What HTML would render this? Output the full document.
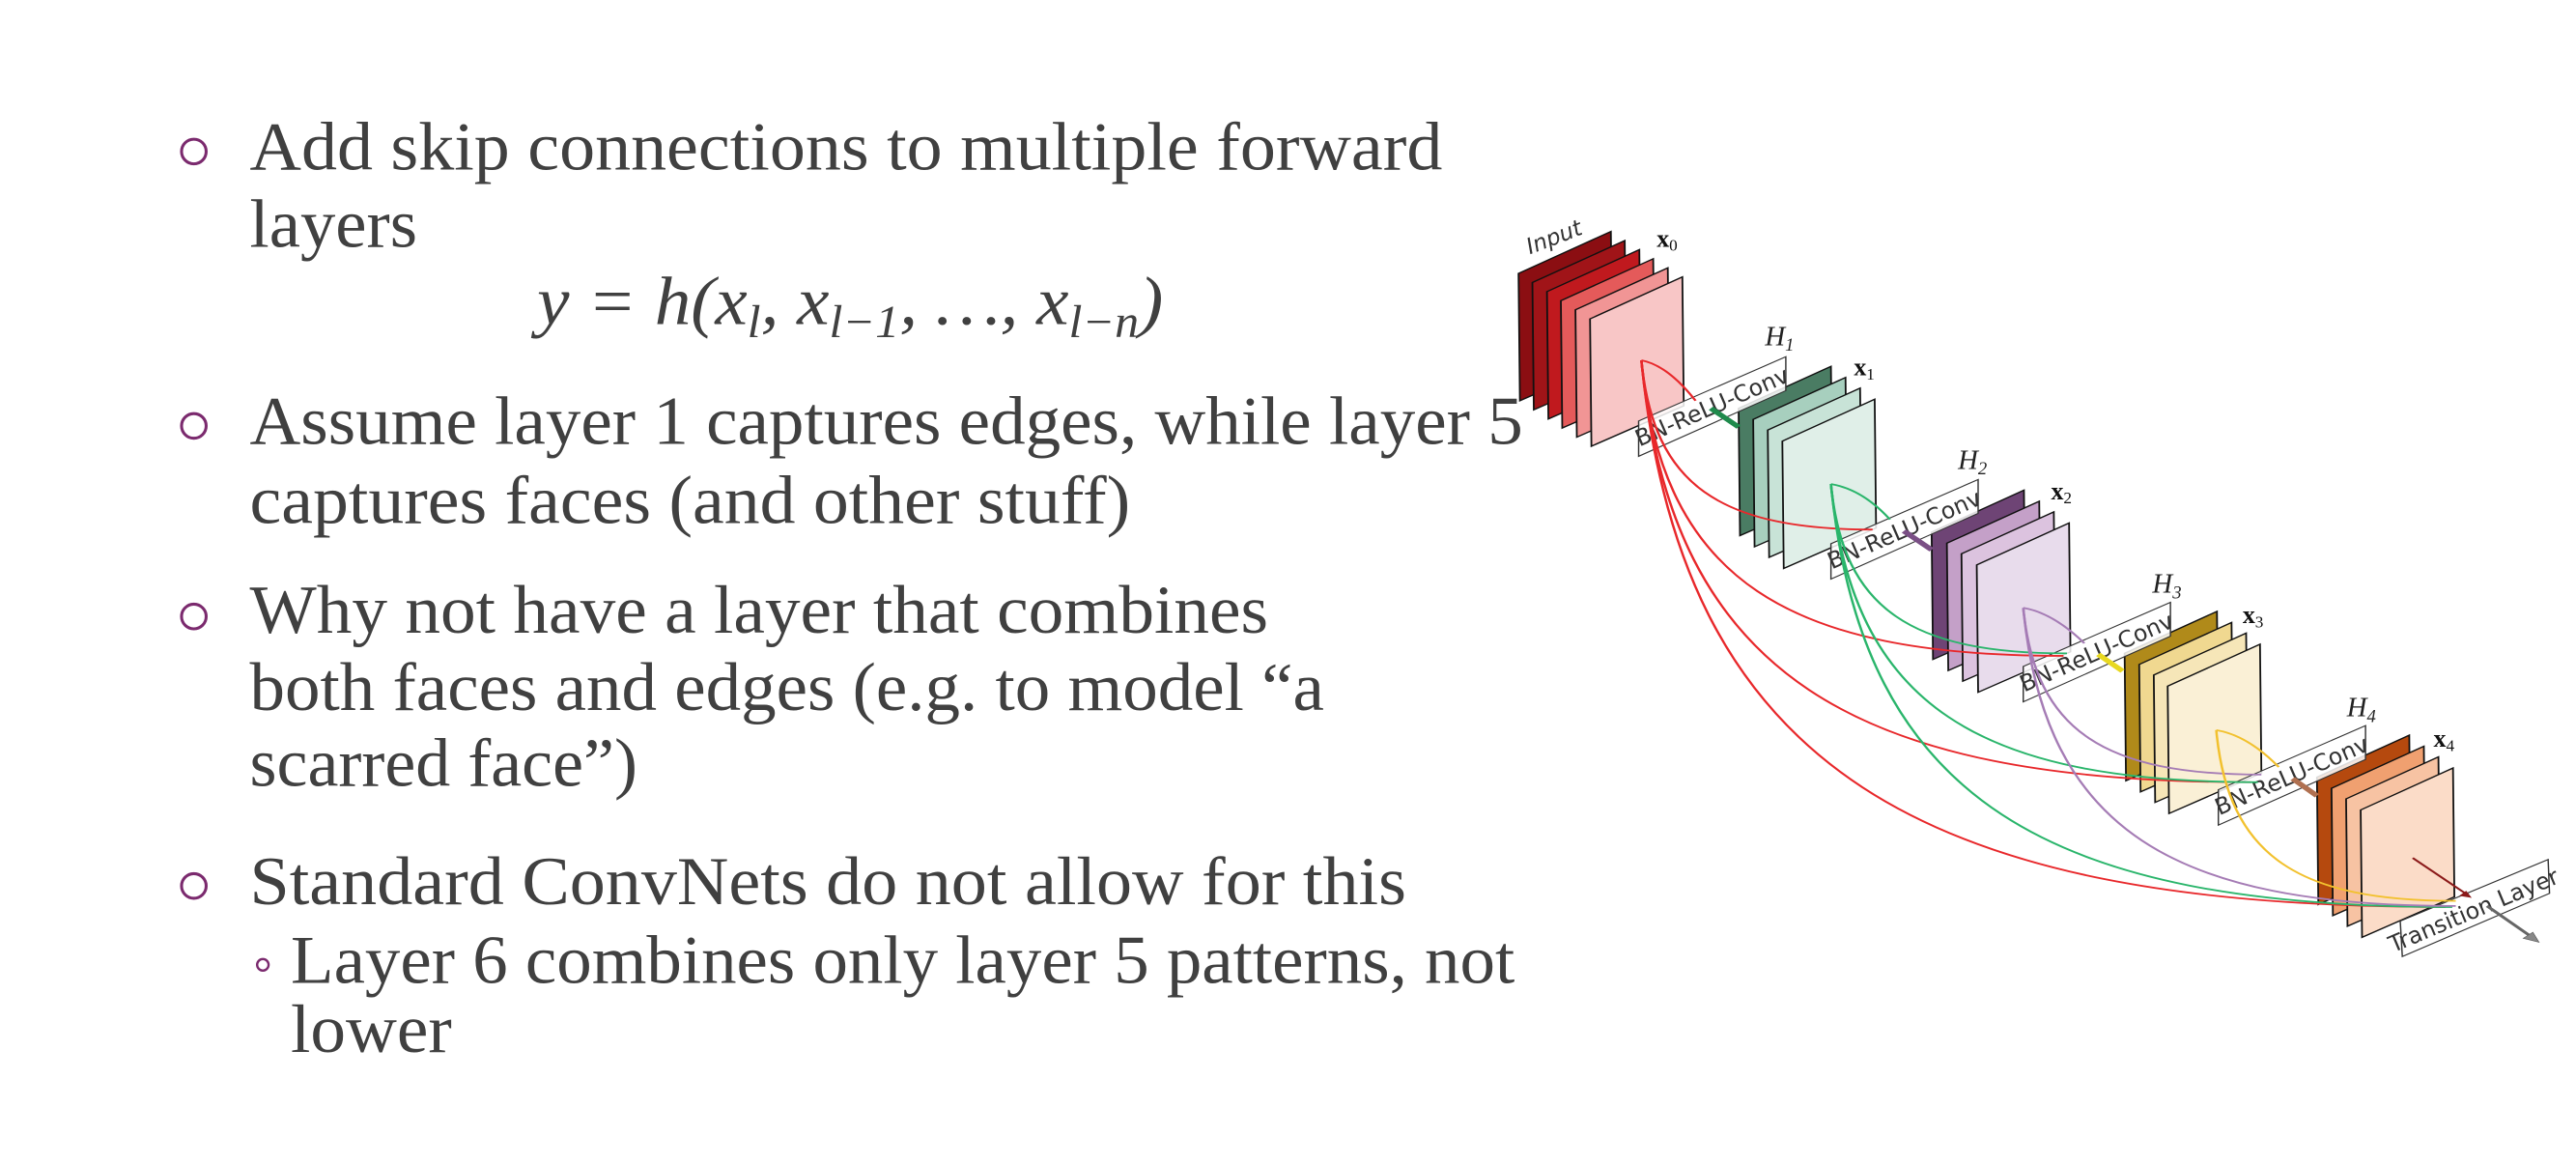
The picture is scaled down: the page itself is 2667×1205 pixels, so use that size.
<!DOCTYPE html>
<html><head><meta charset="utf-8"><style>
html,body{margin:0;padding:0;background:#fff;overflow:hidden;}
svg{display:block;}
</style></head><body>
<svg width="2667" height="1205" viewBox="0 0 1568 708" xmlns="http://www.w3.org/2000/svg">
<rect width="1568" height="708" fill="#fff"/>
<g font-family="'Liberation Serif',serif" font-size="42" fill="#404040">
<text x="152" y="103" textLength="726" lengthAdjust="spacingAndGlyphs">Add skip connections to multiple forward</text>
<text x="152" y="150" textLength="102" lengthAdjust="spacingAndGlyphs">layers</text>
<text x="327" y="197" font-style="italic" textLength="381" lengthAdjust="spacingAndGlyphs">y = h(x<tspan font-size="28" dy="8">l</tspan><tspan dy="-8">, x</tspan><tspan font-size="28" dy="8">l−1</tspan><tspan dy="-8">, …, x</tspan><tspan font-size="28" dy="8">l−n</tspan><tspan dy="-8">)</tspan></text>
<text x="152" y="270" textLength="775" lengthAdjust="spacingAndGlyphs">Assume layer 1 captures edges, while layer 5</text>
<text x="152" y="318" textLength="536" lengthAdjust="spacingAndGlyphs">captures faces (and other stuff)</text>
<text x="152" y="385" textLength="620" lengthAdjust="spacingAndGlyphs">Why not have a layer that combines</text>
<text x="152" y="432" textLength="654" lengthAdjust="spacingAndGlyphs">both faces and edges (e.g. to model “a</text>
<text x="152" y="478" textLength="236" lengthAdjust="spacingAndGlyphs">scarred face”)</text>
<text x="152" y="550" textLength="704" lengthAdjust="spacingAndGlyphs">Standard ConvNets do not allow for this</text>
<text x="177" y="598" textLength="745" lengthAdjust="spacingAndGlyphs">Layer 6 combines only layer 5 patterns, not</text>
<text x="177" y="640" textLength="98" lengthAdjust="spacingAndGlyphs">lower</text>
</g>
<g fill="none" stroke="#7b2a6e" stroke-width="1.8">
<circle cx="118" cy="92" r="7.5"/><circle cx="118" cy="259" r="7.5"/>
<circle cx="118" cy="375" r="7.5"/><circle cx="118" cy="539" r="7.5"/>
<circle cx="160" cy="587" r="3.5" stroke-width="1.4"/>
</g>

<g transform="translate(905.3,117.6) scale(0.4226,0.3075)">
<defs>
<g id="sh"><polygon points="0,0 133,-83 135,172 2,252" stroke="#111" stroke-width="2.5"/></g>
</defs>
<use href="#sh" x="45" y="158" fill="#8b0e12"/>
<use href="#sh" x="65" y="176" fill="#a01418"/>
<use href="#sh" x="86" y="194" fill="#c0191e"/>
<use href="#sh" x="106" y="212" fill="#e45a5a"/>
<use href="#sh" x="127" y="230" fill="#f19595"/>
<use href="#sh" x="148" y="248" fill="#f8c6c6"/>

<use href="#sh" x="362" y="425" fill="#4a7c63"/>
<use href="#sh" x="383" y="447" fill="#a7cfbe"/>
<use href="#sh" x="404" y="468" fill="#c8e3d7"/>
<use href="#sh" x="425" y="490" fill="#e0efe8"/>

<use href="#sh" x="640" y="670" fill="#6e4475"/>
<use href="#sh" x="662" y="692" fill="#c4a0c8"/>
<use href="#sh" x="683" y="713" fill="#dcc3df"/>
<use href="#sh" x="705" y="735" fill="#e8dcec"/>

<use href="#sh" x="918" y="910" fill="#b08a1a"/>
<use href="#sh" x="939" y="932" fill="#f0d890"/>
<use href="#sh" x="960" y="953" fill="#f6e6b8"/>
<use href="#sh" x="980" y="975" fill="#faf0d6"/>

<use href="#sh" x="1195" y="1155" fill="#b5490e"/>
<use href="#sh" x="1216" y="1177" fill="#f0a070"/>
<use href="#sh" x="1237" y="1198" fill="#f7c3a3"/>
<use href="#sh" x="1258" y="1220" fill="#fbdcc8"/>

<g fill="#fff" fill-opacity="0.85" stroke="#333" stroke-width="2">
<polygon points="218,450 430,323 430,390 218,520"/>
<polygon points="495,693 707,566 707,633 495,763"/>
<polygon points="772,936 984,809 984,876 772,1006"/>
<polygon points="1053,1180 1265,1053 1265,1120 1053,1250"/>
<polygon points="1315,1440 1528,1318 1530,1385 1318,1510"/>
</g>
<g font-family="'DejaVu Sans','Liberation Sans',sans-serif" font-size="33" fill="#333" text-anchor="middle">
<text transform="translate(328,436) scale(1,1.374) rotate(-23.5)">BN-ReLU-Conv</text>
<text transform="translate(605,679) scale(1,1.374) rotate(-23.5)">BN-ReLU-Conv</text>
<text transform="translate(882,922) scale(1,1.374) rotate(-23.5)">BN-ReLU-Conv</text>
<text transform="translate(1163,1166) scale(1,1.374) rotate(-23.5)">BN-ReLU-Conv</text>
<text transform="translate(1425,1433) scale(1,1.374) rotate(-22.8)">Transition Layer</text>
<text transform="translate(100,100) scale(1,1.374) rotate(-21)" font-style="italic" font-size="32">Input</text>
</g>
<g font-family="'Liberation Serif',serif" font-size="40" fill="#222" font-style="italic">
<text transform="translate(400,300) scale(1,1.374)">H<tspan font-size="26" dy="8">1</tspan></text>
<text transform="translate(678,545) scale(1,1.374)">H<tspan font-size="26" dy="8">2</tspan></text>
<text transform="translate(958,790) scale(1,1.374)">H<tspan font-size="26" dy="8">3</tspan></text>
<text transform="translate(1238,1035) scale(1,1.374)">H<tspan font-size="26" dy="8">4</tspan></text>
</g>
<g font-family="'Liberation Serif',serif" font-size="36" fill="#111" font-weight="bold">
<text transform="translate(244,105) scale(1,1.374)">x<tspan font-size="24" font-weight="normal" dy="6">0</tspan></text>
<text transform="translate(528,360) scale(1,1.374)">x<tspan font-size="24" font-weight="normal" dy="6">1</tspan></text>
<text transform="translate(812,605) scale(1,1.374)">x<tspan font-size="24" font-weight="normal" dy="6">2</tspan></text>
<text transform="translate(1088,850) scale(1,1.374)">x<tspan font-size="24" font-weight="normal" dy="6">3</tspan></text>
<text transform="translate(1363,1095) scale(1,1.374)">x<tspan font-size="24" font-weight="normal" dy="6">4</tspan></text>
</g>

<g stroke-width="9" stroke-linecap="butt">
<line x1="322" y1="425" x2="362" y2="462" stroke="#1f8a4c"/>
<line x1="600" y1="668" x2="640" y2="705" stroke="#7a4f85"/>
<line x1="880" y1="912" x2="915" y2="945" stroke="#e8d820"/>
<line x1="1160" y1="1158" x2="1195" y2="1192" stroke="#b07050"/>
</g>

<g fill="none" stroke-width="3.5">
<g stroke="#e8282b">
<path d="M222,330 Q260,340 300,410"/>
<path d="M222,330 C239,581 339,665 555,665"/>
<path d="M222,330 C252,769 435,915 830,915"/>
<path d="M222,330 C266,956 529,1165 1100,1165"/>
<path d="M222,330 C280,1141 627,1412 1380,1412"/>
</g>
<g stroke="#2ab56b">
<path d="M495,575 Q540,585 580,645"/>
<path d="M495,575 C512,826 614,910 835,910"/>
<path d="M495,575 C526,1017 710,1165 1110,1165"/>
<path d="M495,575 C540,1203 808,1412 1390,1412"/>
</g>
<g stroke="#a57cb5">
<path d="M772,820 Q815,830 860,890"/>
<path d="M772,820 C789,1067 892,1150 1115,1150"/>
<path d="M772,820 C803,1262 990,1410 1395,1410"/>
</g>
<g stroke="#f2c12e">
<path d="M1050,1062 Q1095,1072 1140,1135"/>
<path d="M1050,1062 C1067,1315 1171,1400 1395,1400"/>
</g>
<line x1="1333" y1="1315" x2="1412" y2="1388" stroke="#8b1a1a"/>
<polygon points="1418,1394 1400,1390 1410,1380" fill="#8b1a1a" stroke="none"/>
<line x1="1440" y1="1410" x2="1505" y2="1472" stroke="#666" stroke-width="5"/>
<polygon points="1515,1482 1492,1474 1506,1462" fill="#888" stroke="#555" stroke-width="1"/>
</g>
</g>
</svg>
</body></html>
